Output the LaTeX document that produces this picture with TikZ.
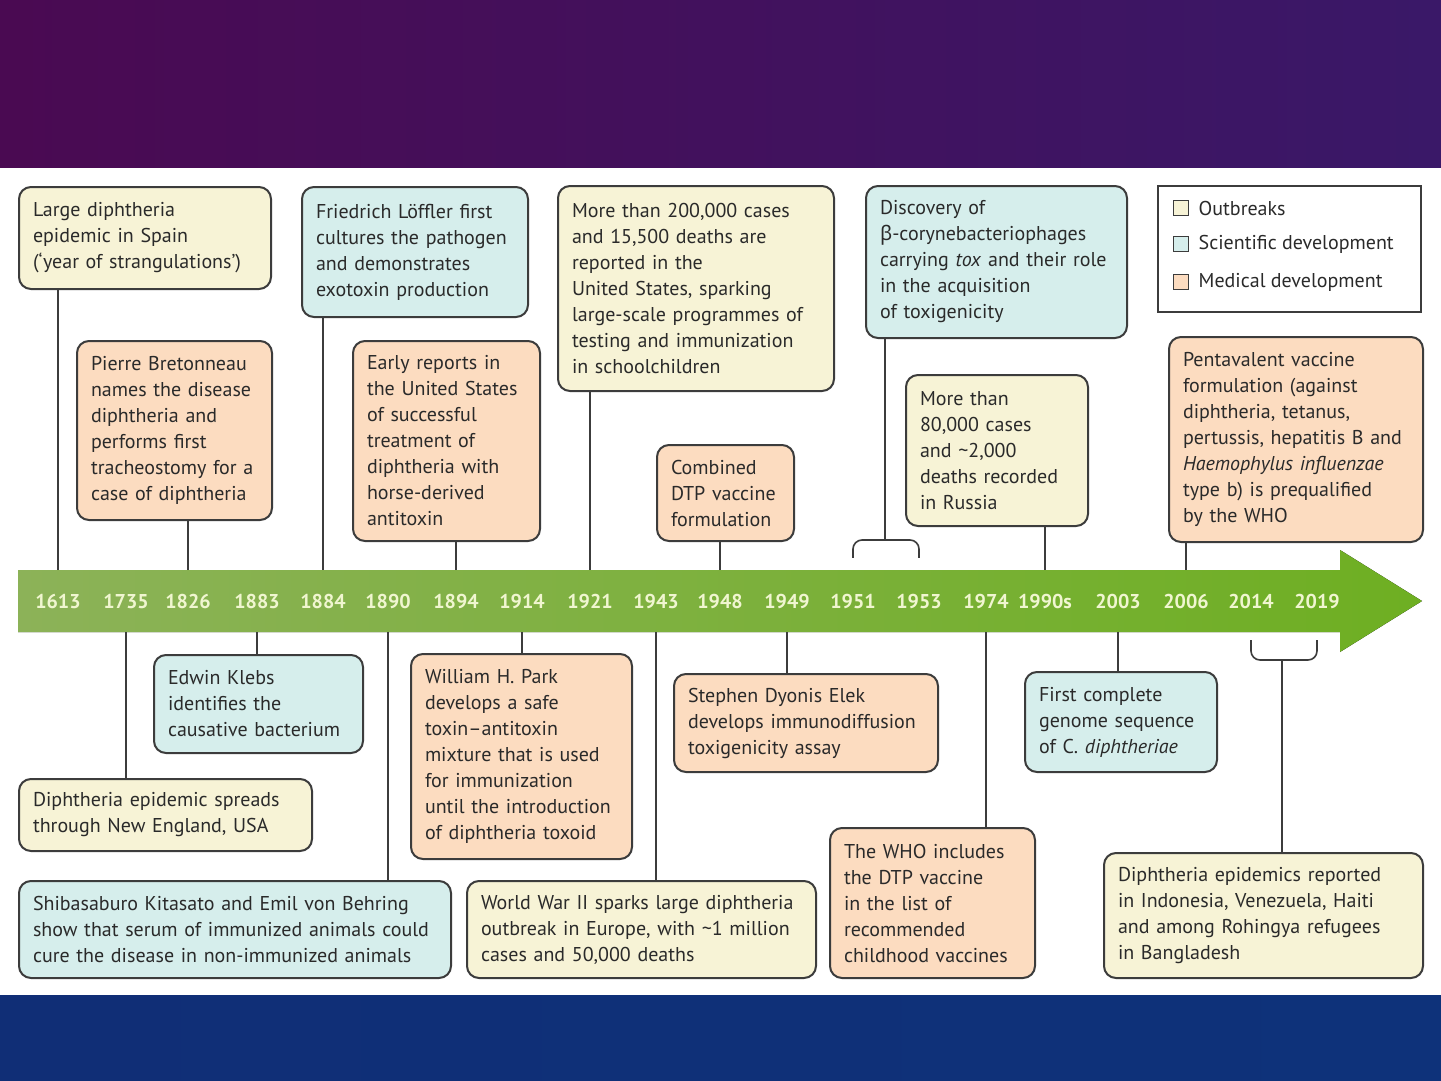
\documentclass[tikz,border=0pt]{standalone}
\usepackage{fontspec}
\setmainfont{PT Sans}
\newfontfamily\grkfont{Noto Sans}
\usetikzlibrary{positioning}
\definecolor{outcol}{RGB}{247,243,214}
\definecolor{scicol}{RGB}{214,238,236}
\definecolor{medcol}{RGB}{252,220,192}
\definecolor{edgecol}{RGB}{60,60,60}
\definecolor{txtcol}{RGB}{42,42,42}
\definecolor{yearcol}{RGB}{240,246,208}

\begin{document}
\begin{tikzpicture}[x=1pt, y=-1pt]
   \tikzset{box/.style={draw=edgecol, line width=2pt, rounded corners=12pt, anchor=north west,
      align=left, inner xsep=14pt, inner ysep=8pt, text=txtcol, font=\fontsize{20}{26}\selectfont}}
   \tikzset{outbreak/.style={box, fill=outcol}}
   \tikzset{science/.style={box, fill=scicol}}
   \tikzset{medical/.style={box, fill=medcol}}
   \tikzset{year/.style={inner sep=0pt, minimum height=62pt, text height=14pt, text depth=0pt,
      text=yearcol, font=\fontsize{20}{24}\selectfont\bfseries}}
   \tikzset{link/.style={draw=edgecol, line width=1.6pt}}
   \tikzset{legsq/.style={draw=edgecol, line width=1.4pt, minimum size=15pt, inner sep=0pt}}
   \fill[left color={rgb,255:red,74;green,10;blue,82}, right color={rgb,255:red,58;green,24;blue,104}]
      (0,0) rectangle (1441,168);
   \fill[white] (0,168) rectangle (1441,995);
   \fill[left color={rgb,255:red,16;green,46;blue,118}, right color={rgb,255:red,14;green,50;blue,122}]
      (0,995) rectangle (1441,1081);
   \fill[left color={rgb,255:red,140;green,178;blue,88}, right color={rgb,255:red,110;green,175;blue,34}]
      (18,570) -- (1340,570) -- (1340,550) -- (1422,601) -- (1340,652) -- (1340,632) -- (18,632) -- cycle;
   \foreach \yr/\xx in {1613/58, 1735/126, 1826/188, 1883/257, 1884/323, 1890/388, 1894/456,
      1914/522, 1921/590, 1943/656, 1948/720, 1949/787, 1951/853, 1953/919, 1974/986,
      1990s/1045, 2003/1118, 2006/1186, 2014/1251, 2019/1317}
      \node[year] (y\yr) at (\xx,601) {\yr};
   \node[outbreak, text width=224pt, minimum height=102pt] (b1613) at (18,186)
      {Large diphtheria\\epidemic in Spain\\(`year of strangulations')};
   \node[medical, text width=167pt, minimum height=179pt] (b1826) at (76,340)
      {Pierre Bretonneau\\names the disease\\diphtheria and\\performs first\\tracheostomy for a\\case of diphtheria};
   \node[science, text width=198pt, minimum height=130pt] (b1884) at (301,186)
      {Friedrich Löffler first\\cultures the pathogen\\and demonstrates\\exotoxin production};
   \node[medical, text width=159pt, minimum height=200pt] (b1894) at (352,340)
      {Early reports in\\the United States\\of successful\\treatment of\\diphtheria with\\horse-derived\\antitoxin};
   \node[outbreak, text width=248pt, minimum height=205pt] (b1921) at (557,185)
      {More than 200,000 cases\\and 15,500 deaths are\\reported in the\\United States, sparking\\large-scale programmes of\\testing and immunization\\in schoolchildren};
   \node[medical, text width=109pt, minimum height=96pt] (b1948) at (656,444)
      {Combined\\DTP vaccine\\formulation};
   \node[science, text width=233pt, minimum height=152pt] (b1951) at (865,185)
      {Discovery of\\{\grkfont β}-corynebacteriophages\\carrying \textit{tox} and their role\\in the acquisition\\of toxigenicity};
   \node[outbreak, text width=154pt, minimum height=151pt] (b1990s) at (905,374)
      {More than\\80,000 cases\\and \textasciitilde2,000\\deaths recorded\\in Russia};
   \node[medical, text width=226pt, minimum height=205pt] (b2006) at (1168,336)
      {Pentavalent vaccine\\formulation (against\\diphtheria, tetanus,\\pertussis, hepatitis B and\\\textit{Haemophylus influenzae}\\type b) is prequalified\\by the WHO};
   \node[outbreak, text width=265pt, minimum height=72pt] (b1735) at (18,778)
      {Diphtheria epidemic spreads\\through New England, USA};
   \node[science, text width=181pt, minimum height=98pt] (b1883) at (153,654)
      {Edwin Klebs\\identifies the\\causative bacterium};
   \node[science, text width=404pt, minimum height=97pt] (b1890) at (18,880)
      {Shibasaburo Kitasato and Emil von Behring\\show that serum of immunized animals could\\cure the disease in non-immunized animals};
   \node[medical, text width=193pt, minimum height=205pt] (b1914) at (410,653)
      {William H. Park\\develops a safe\\toxin–antitoxin\\mixture that is used\\for immunization\\until the introduction\\of diphtheria toxoid};
   \node[outbreak, text width=321pt, minimum height=97pt] (b1943) at (466,880)
      {World War II sparks large diphtheria\\outbreak in Europe, with \textasciitilde1 million\\cases and 50,000 deaths};
   \node[medical, text width=236pt, minimum height=98pt] (b1949) at (673,673)
      {Stephen Dyonis Elek\\develops immunodiffusion\\toxigenicity assay};
   \node[medical, text width=177pt, minimum height=150pt] (b1974) at (829,827)
      {The WHO includes\\the DTP vaccine\\in the list of\\recommended\\childhood vaccines};
   \node[science, text width=164pt, minimum height=100pt] (b2003) at (1024,671)
      {First complete\\genome sequence\\of C. \textit{diphtheriae}};
   \node[outbreak, text width=291pt, minimum height=125pt] (b2014) at (1103,852)
      {Diphtheria epidemics reported\\in Indonesia, Venezuela, Haiti\\and among Rohingya refugees\\in Bangladesh};
   \foreach \yr in {1613, 1826, 1884, 1894, 1921, 1948, 1990s, 2006}
      \draw[link] (b\yr.south -| y\yr) -- (y\yr.north);
   \foreach \yr in {1735, 1883, 1890, 1914, 1943, 1949, 1974, 2003}
      \draw[link] (y\yr.south) -- (y\yr.south |- b\yr.north);
   \coordinate (k1951) at (885,540);
   \draw[link, rounded corners=9pt] ([yshift=12pt]y1951.north) |- (k1951) -| ([yshift=12pt]y1953.north);
   \draw[link] (b1951.south -| k1951) -- (k1951);
   \coordinate (k2014) at (1282,660);
   \draw[link, rounded corners=9pt] ([yshift=-8pt]y2014.south) |- (k2014) -| ([yshift=-8pt]y2019.south);
   \draw[link] (k2014) -- (k2014 |- b2014.north);
   \node[draw=edgecol, line width=1.5pt, anchor=north west, minimum width=263pt, minimum height=126pt,
      inner sep=0pt] (legend) at (1157,185) {};
   \node[legsq, fill=outcol] (q1) at (1181,208) {};
   \node[legsq, fill=scicol] (q2) at (1181,244) {};
   \node[legsq, fill=medcol] (q3) at (1181,282) {};
   \node[right=6pt of q1, text=txtcol, font=\fontsize{20}{24}\selectfont] {Outbreaks};
   \node[right=6pt of q2, text=txtcol, font=\fontsize{20}{24}\selectfont] {Scientific development};
   \node[right=6pt of q3, text=txtcol, font=\fontsize{20}{24}\selectfont] {Medical development};
\end{tikzpicture}
\end{document}
